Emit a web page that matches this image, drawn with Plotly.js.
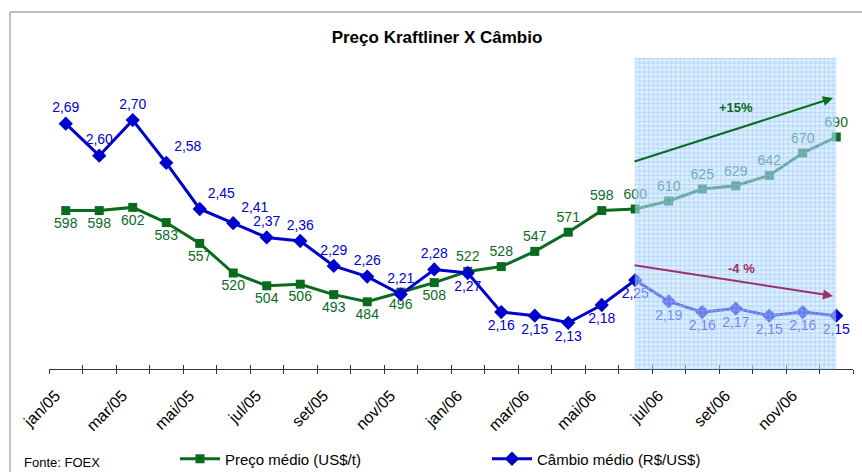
<!DOCTYPE html>
<html><head><meta charset="utf-8">
<script src="https://cdn.plot.ly/plotly-3.0.1.min.js"></script>
<style>html,body{margin:0;padding:0;background:#fff}</style>
</head><body><div id="chart" style="width:862px;height:472px"></div>
<script>
const months = ['jan/05','fev/05','mar/05','abr/05','mai/05','jun/05','jul/05','ago/05','set/05','out/05','nov/05','dez/05',
                'jan/06','fev/06','mar/06','abr/06','mai/06','jun/06','jul/06','ago/06','set/06','out/06','nov/06','dez/06'];
const preco = [598,598,602,583,557,520,504,506,493,484,496,508,522,528,547,571,598,600,610,625,629,642,670,690];
const cambio = [2.69,2.60,2.70,2.58,2.45,2.41,2.37,2.36,2.29,2.26,2.21,2.28,2.27,2.16,2.15,2.13,2.18,2.25,2.19,2.16,2.17,2.15,2.16,2.15];
const precoPos = ['bottom center','bottom center','bottom center','bottom center','bottom center','bottom center','bottom center','bottom center','bottom center','bottom center','bottom center','bottom center',
                  'top center','top center','top center','top center','top center','top center','top center','top center','top center','top center','top center','top center'];
const cambioPos = ['top center','top center','top center','top right','top right','top right','top center','top center','top center','top center','top center','top center',
                   'bottom center','bottom center','bottom center','bottom center','bottom center','bottom center','bottom center','bottom center','bottom center','bottom center','bottom center','bottom center'];
const tickText = months.map((m,i) => i % 2 === 0 ? m : '');

const FONT = 'Liberation Sans, Arial, sans-serif';
const GREEN = '#0A6B1E';
const BLUE = '#0000CC';
const PURPLE = '#993366';

// plot area in px: left 49, right 853, top 49, bottom 369
const L = 49, R = 853, T = 49, B = 369;
const px2x = p => (p - L) / (R - L);
const py2y = p => (B - p) / (B - T);

// grid path for forecast area (jun/06 .. dez/06)
const gx0 = months.indexOf('jun/06'), gx1 = months.indexOf('dez/06');
const unitPx = (R - L) / months.length;
const gyTop = py2y(58);
let path = '';
const step = 4.5;
for (let p = 0; p <= (gx1 - gx0) * unitPx; p += step) {
  const xv = gx0 + p / unitPx;
  path += `M${xv.toFixed(4)},0L${xv.toFixed(4)},${gyTop.toFixed(4)}`;
}
for (let p = 0; p <= (B - 58); p += step) {
  const yv = p / (B - T);
  path += `M${gx0},${yv.toFixed(4)}L${gx1},${yv.toFixed(4)}`;
}

const traces = [
  {
    x: months, y: preco, name: 'Preço médio (US$/t)', type: 'scatter', mode: 'lines+markers+text',
    line: {color: GREEN, width: 3}, marker: {symbol: 'square', size: 9, color: GREEN},
    texttemplate: '%{y:.0f}', textposition: precoPos,
    textfont: {family: FONT, size: 14, color: GREEN}, cliponaxis: false, hoverinfo: 'skip'
  },
  {
    x: months, y: cambio, name: 'Câmbio médio (R$/US$)', type: 'scatter', mode: 'lines+markers+text', yaxis: 'y2',
    line: {color: BLUE, width: 3}, marker: {symbol: 'diamond', size: 11, color: BLUE},
    texttemplate: '%{y:.2f}', textposition: cambioPos,
    textfont: {family: FONT, size: 14, color: BLUE}, cliponaxis: false, hoverinfo: 'skip'
  },
  { // carrier for the upper half of the crossing tick marks
    x: months, y: preco, xaxis: 'x2', type: 'scatter', mode: 'lines', line: {width: 0}, opacity: 0,
    showlegend: false, hoverinfo: 'skip'
  }
];

const layout = {
  width: 862, height: 472,
  margin: {l: L, r: 862 - R, t: T, b: 472 - B, autoexpand: false},
  paper_bgcolor: '#fff', plot_bgcolor: 'rgba(0,0,0,0)',
  separators: ',.',
  font: {family: FONT, size: 13, color: '#000'},
  showlegend: true,
  title: {text: '<b>Preço Kraftliner X Câmbio</b>', font: {family: FONT, size: 17, color: '#000'},
          x: 437/862, xanchor: 'center', xref: 'container', y: 1 - 37/472, yanchor: 'middle', yref: 'container'},
  xaxis: {
    type: 'category', categoryorder: 'array', categoryarray: months,
    range: [-0.5, months.length - 0.5], automargin: false,
    tickmode: 'array', tickvals: months, ticktext: tickText,
    tickson: 'boundaries', ticks: 'outside', ticklen: 4, tickcolor: '#333', tickwidth: 1,
    tickangle: -45, tickfont: {family: FONT, size: 16, color: '#000'}, ticklabelstandoff: 10, ticklabelshift: -10,
    showline: true, linecolor: '#333', linewidth: 1, showgrid: false, zeroline: false, fixedrange: true
  },
  xaxis2: {
    type: 'category', categoryorder: 'array', categoryarray: months, overlaying: 'x', side: 'bottom', anchor: 'y',
    range: [-0.5, months.length - 0.5], automargin: false,
    tickmode: 'array', tickvals: months, showticklabels: false,
    tickson: 'boundaries', ticks: 'inside', ticklen: 4, tickcolor: '#333', tickwidth: 1,
    showline: false, showgrid: false, zeroline: false, fixedrange: true
  },
  yaxis: {range: [400, 800], visible: false, fixedrange: true},
  yaxis2: {range: [2.0, 2.9], visible: false, overlaying: 'y', side: 'right', fixedrange: true},
  legend: {orientation: 'h', x: px2x(175), xanchor: 'left', y: py2y(459), yanchor: 'middle',
           font: {family: FONT, size: 15, color: '#000'}, itemwidth: 40, entrywidth: 257, bgcolor: 'rgba(0,0,0,0)'},
  shapes: [
    {type: 'rect', layer: 'above', xref: 'x', yref: 'paper', x0: gx0, x1: gx1, y0: 0, y1: gyTop,
     fillcolor: 'rgba(190,222,255,0.55)', line: {width: 0}},
    {type: 'path', layer: 'above', xref: 'x', yref: 'paper', path: path,
     line: {color: 'rgba(140,190,250,0.4)', width: 1}},
    {type: 'line', xref: 'paper', yref: 'paper', x0: px2x(10), x1: px2x(870), y0: py2y(12), y1: py2y(12),
     line: {color: '#C0C0C0', width: 2}},
    {type: 'line', xref: 'paper', yref: 'paper', x0: px2x(10), x1: px2x(10), y0: py2y(12), y1: py2y(480),
     line: {color: '#C0C0C0', width: 2}}
  ],
  annotations: [
    {xref: 'paper', yref: 'paper', x: px2x(833), y: py2y(98), ax: -200, ay: 64, axref: 'pixel', ayref: 'pixel',
     showarrow: true, arrowhead: 2, arrowsize: 1, arrowwidth: 2, arrowcolor: GREEN, text: ''},
    {xref: 'paper', yref: 'paper', x: px2x(736), y: py2y(108), xanchor: 'center', yanchor: 'middle',
     text: '<b>+15%</b>', showarrow: false, font: {family: FONT, size: 13, color: GREEN}},
    {xref: 'paper', yref: 'paper', x: px2x(833), y: py2y(296), ax: -200, ay: -31, axref: 'pixel', ayref: 'pixel',
     showarrow: true, arrowhead: 2, arrowsize: 1, arrowwidth: 2, arrowcolor: PURPLE, text: ''},
    {xref: 'paper', yref: 'paper', x: px2x(741), y: py2y(268), xanchor: 'center', yanchor: 'middle',
     text: '<b>-4 %</b>', showarrow: false, font: {family: FONT, size: 13, color: PURPLE}},
    {xref: 'paper', yref: 'paper', x: px2x(22), y: py2y(462), xanchor: 'left', yanchor: 'middle',
     text: 'Fonte: FOEX', showarrow: false, font: {family: FONT, size: 13, color: '#000'}}
  ]
};

Plotly.newPlot('chart', traces, layout, {staticPlot: true, displayModeBar: false});
</script>
</body></html>
